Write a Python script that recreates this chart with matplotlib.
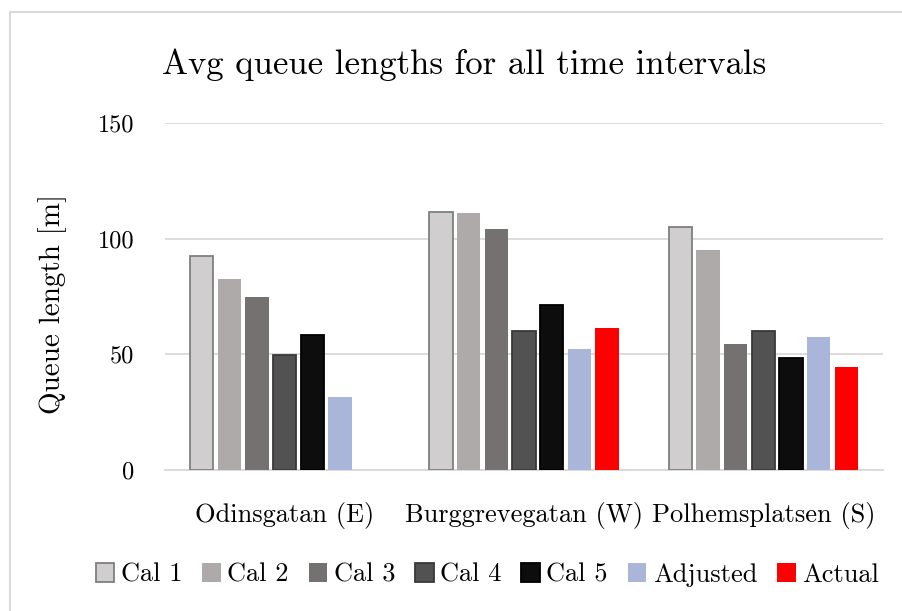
import numpy as np
import matplotlib
matplotlib.use("Agg")
import matplotlib.pyplot as plt
from matplotlib.lines import Line2D

plt.rcParams['font.family'] = ['cmr10', 'DejaVu Serif']
plt.rcParams['axes.formatter.use_mathtext'] = True

# Data
locations = ["Odinsgatan (E)", "Burggrevegatan (W)", "Polhemsplatsen (S)"]
series_names = ["Cal 1", "Cal 2", "Cal 3", "Cal 4", "Cal 5", "Adjusted", "Actual"]
cal1 = [92.5, 111.6, 104.9]
cal2 = [82.6, 111.3, 95.3]
cal3 = [74.9, 104.0, 54.6]
cal4 = [49.7, 60.3, 60.3]
cal5 = [58.2, 71.3, 48.2]
adjusted = [31.4, 52.2, 57.3]
actual = [np.nan, 61.3, 44.6]
yticks = [0, 50, 100, 150]

series = [cal1, cal2, cal3, cal4, cal5, adjusted, actual]
faces = ["#d0cece", "#aeaaaa", "#767171", "#525252", "#0d0d0d", "#a9b6da", "#ff0000"]
edges = ["#7f7f7f", "#aeaaaa", "#767171", "#3a3838", "#000000", "#a9b6da", "#ff0000"]
edge_w = [1.3, 0, 0, 1.3, 1.3, 0, 0]

fig = plt.figure(figsize=(9.03, 6.11), dpi=100)
ax = fig.add_axes([165 / 903, 1 - 470 / 611, (883 - 165) / 903, (470 - 123) / 611])

x = np.arange(len(locations))
step = 0.1157
width = 0.098
for i, (vals, fc, ec, lw) in enumerate(zip(series, faces, edges, edge_w)):
    ax.bar(x + (i - 3) * step, vals, width, color=fc, edgecolor=ec,
           linewidth=lw, label=series_names[i], zorder=3)

ax.set_xlim(-0.5, len(locations) - 0.5)
ax.set_ylim(0, 150)
ax.set_yticks(yticks)
ax.set_yticklabels([str(t) for t in yticks], fontsize=17.5)
ax.set_xticks(x)
ax.set_xticklabels(locations, fontsize=19)
ax.tick_params(axis='y', length=0, pad=22)
ax.tick_params(axis='x', length=0, pad=23)
ax.yaxis.grid(True, color="#d9d9d9", linewidth=1.3, zorder=0)
for s in ["top", "right", "left"]:
    ax.spines[s].set_visible(False)
ax.spines["bottom"].set_color("#d9d9d9")
ax.spines["bottom"].set_linewidth(1.3)

ax.set_ylabel("Queue length [m]", fontsize=21)
ax.yaxis.set_label_coords((67 - 165) / (883 - 165), (470 - 304) / (470 - 123))

fig.text(464 / 903, 1 - 65 / 611, "Avg queue lengths for all time intervals",
         ha="center", va="center", fontsize=25)

fig.legend(loc="center", bbox_to_anchor=(487.5 / 903, 1 - 575 / 611), ncol=7,
           frameon=False, fontsize=19, handlelength=0.7, handleheight=0.7,
           handletextpad=0.25, columnspacing=0.75)

# Chart frame
fig.add_artist(Line2D([10 / 903, 10 / 903], [0, 1 - 12 / 611], color="#d9d9d9",
                      linewidth=1.5, transform=fig.transFigure))
fig.add_artist(Line2D([10 / 903, 1], [1 - 12 / 611, 1 - 12 / 611], color="#d9d9d9",
                      linewidth=1.5, transform=fig.transFigure))

fig.savefig("out.png", dpi=100)
